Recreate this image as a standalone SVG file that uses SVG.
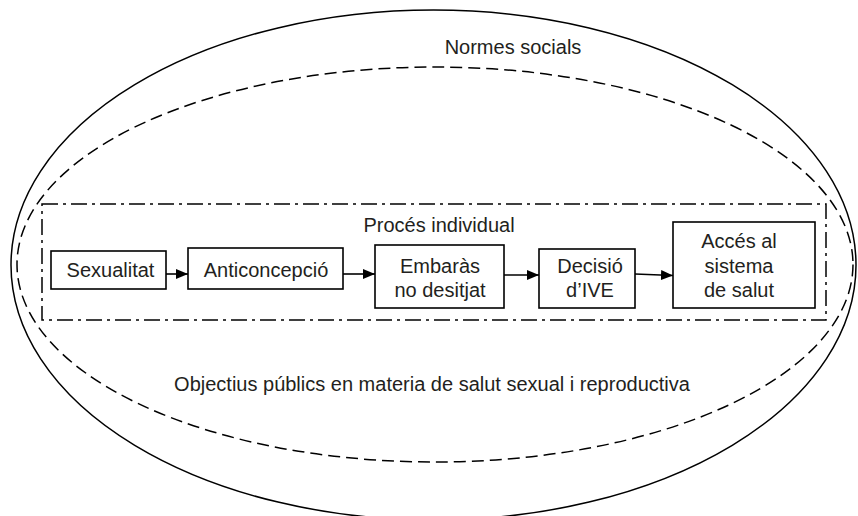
<svg xmlns="http://www.w3.org/2000/svg" width="858" height="516" viewBox="0 0 858 516">
<style>
text{font-family:"Liberation Sans",Arial,Helvetica,sans-serif;fill:#231f20;font-size:20px;text-anchor:middle}
.box{fill:#fff;stroke:#000;stroke-width:1.6}
.conn{stroke:#000;stroke-width:1.6;fill:none;marker-end:url(#ah)}
</style>
<defs>
<marker id="ah" viewBox="0 0 12 10" refX="12" refY="5" markerWidth="12" markerHeight="10" markerUnits="userSpaceOnUse" orient="auto">
<path d="M0,0L12,5L0,10z" fill="#000"/>
</marker>
</defs>
<rect width="858" height="516" fill="#fff"/>
<g id="normes">
<ellipse cx="433.5" cy="265" rx="422.5" ry="255" fill="none" stroke="#000" stroke-width="1.5"/>
<text x="513" y="54">Normes socials</text>
</g>
<g id="objectius">
<ellipse cx="435" cy="264.5" rx="418" ry="197.5" fill="none" stroke="#000" stroke-width="1.5" stroke-dasharray="12,6"/>
<text x="432" y="391">Objectius públics en materia de salut sexual i reproductiva</text>
</g>
<g id="proces">
<rect x="42" y="204" width="784" height="116" fill="none" stroke="#000" stroke-width="1.5" stroke-dasharray="16,5,3,5"/>
<text x="439" y="232">Procés individual</text>
</g>
<g id="sexualitat">
<rect class="box" x="51" y="251" width="115" height="38"/>
<text x="110.5" y="277">Sexualitat</text>
</g>
<g id="anticoncepcio">
<rect class="box" x="188" y="248" width="155" height="41"/>
<text x="266" y="277">Anticoncepció</text>
</g>
<g id="embaras">
<rect class="box" x="375" y="245" width="129" height="63"/>
<text x="440" y="273">Embaràs</text>
<text x="440" y="297">no desitjat</text>
</g>
<g id="decisio">
<rect class="box" x="539" y="249" width="96" height="59"/>
<text x="590" y="273">Decisió</text>
<text x="590" y="297">d’IVE</text>
</g>
<g id="acces">
<rect class="box" x="673" y="222" width="142" height="86"/>
<text x="739" y="248">Accés al</text>
<text x="739" y="273">sistema</text>
<text x="739" y="297">de salut</text>
</g>
<g id="connectors">
<line class="conn" x1="166" y1="274" x2="188" y2="274"/>
<line class="conn" x1="343" y1="274" x2="375" y2="274"/>
<line class="conn" x1="504" y1="275" x2="539" y2="275"/>
<line class="conn" x1="635" y1="274" x2="673" y2="275.5"/>
</g>
</svg>
